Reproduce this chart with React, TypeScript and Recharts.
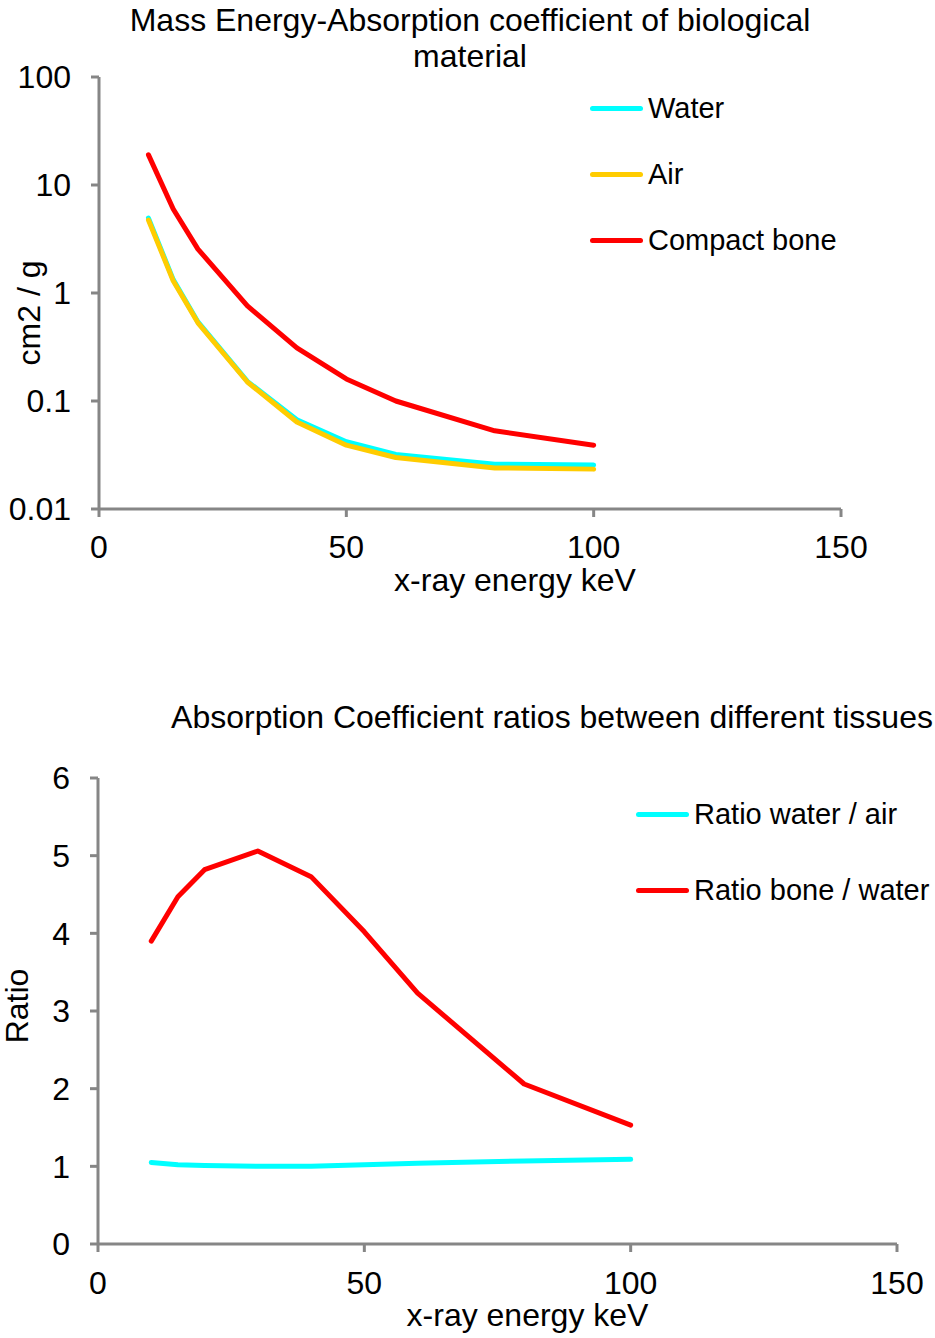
import React from 'react';
import { LineChart, Line, XAxis, YAxis, Legend } from 'recharts';

// x-ray energy, keV
const energy = [10, 15, 20, 30, 40, 50, 60, 80, 100];

// mass energy-absorption coefficient, cm2/g
const water = [4.94, 1.33, 0.54, 0.152, 0.067, 0.042, 0.032, 0.026, 0.0255];
const air = [4.74, 1.3, 0.53, 0.15, 0.064, 0.039, 0.03, 0.024, 0.0234];
const bone = [19, 6.0, 2.55, 0.76, 0.31, 0.16, 0.1, 0.053, 0.039];

// ratios
const ratioWaterAir = [1.05, 1.02, 1.01, 1.0, 1.0, 1.02, 1.04, 1.07, 1.09];
const ratioBoneWater = [3.9, 4.47, 4.82, 5.06, 4.73, 4.02, 3.23, 2.06, 1.53];

const xTicks = [0, 50, 100, 150];
const logTicks = [0.01, 0.1, 1, 10, 100];
const ratioTicks = [0, 1, 2, 3, 4, 5, 6];

const topSeries = [
  { key: 'water', name: 'Water', color: '#00FFFF' },
  { key: 'air', name: 'Air', color: '#FFCC00' },
  { key: 'bone', name: 'Compact bone', color: '#FF0000' },
];
const bottomSeries = [
  { key: 'waterAir', name: 'Ratio water / air', color: '#00FFFF' },
  { key: 'boneWater', name: 'Ratio bone / water', color: '#FF0000' },
];

const topData = energy.map((e, i) => ({ energy: e, water: water[i], air: air[i], bone: bone[i] }));
const bottomData = energy.map((e, i) => ({ energy: e, waterAir: ratioWaterAir[i], boneWater: ratioBoneWater[i] }));

const FONT = '"Liberation Sans", Arial, sans-serif';
const AXIS = '#868686';

const tickStyle = { fill: '#000', fontSize: 32, fontFamily: FONT };

function XTitle(props: any) {
  const { viewBox, text, dx } = props;
  return (
    <text x={viewBox.x + viewBox.width / 2 + dx} y={viewBox.y + 82} textAnchor="middle" fontSize={32} fontFamily={FONT} fill="#000">
      {text}
    </text>
  );
}

function YTitle(props: any) {
  const { viewBox, text, bx, dy } = props;
  const x = viewBox.x + bx;
  const y = viewBox.y + viewBox.height / 2 + dy;
  return (
    <text x={x} y={y} transform={`rotate(-90 ${x} ${y})`} textAnchor="middle" fontSize={32} fontFamily={FONT} fill="#000">
      {text}
    </text>
  );
}

function makeLegend(series: typeof topSeries, rowHeight: number) {
  return () => (
    <div style={{ fontFamily: FONT, fontSize: 29, color: '#000' }}>
      {series.map((s) => (
        <div key={s.key} style={{ display: 'flex', alignItems: 'center', height: rowHeight }}>
          <span style={{ display: 'inline-block', width: 53, height: 5, borderRadius: 3, background: s.color, marginRight: 5 }} />
          <span style={{ whiteSpace: 'nowrap' }}>{s.name}</span>
        </div>
      ))}
    </div>
  );
}

const TopLegend = makeLegend(topSeries, 66);
const BottomLegend = makeLegend(bottomSeries, 76);

export default function App() {
  return (
    <div style={{ position: 'absolute', left: 0, top: 0, width: 935, height: 1338, background: '#fff', fontFamily: FONT }}>
      <div style={{ position: 'absolute', left: 99, top: 2, width: 742, textAlign: 'center', fontSize: 32, lineHeight: '36px' }}>
        Mass Energy-Absorption coefficient of biological
        <br />
        material
      </div>
      <div style={{ position: 'absolute', left: 0, top: 0 }}>
        <LineChart width={935} height={620} data={topData} margin={{ top: 77, right: 94, left: 0, bottom: 0 }}>
          <XAxis
            dataKey="energy"
            type="number"
            domain={[0, 150]}
            ticks={xTicks}
            height={111}
            tick={tickStyle}
            tickSize={8}
            tickMargin={18}
            stroke={AXIS}
            strokeWidth={3}
            label={<XTitle text="x-ray energy keV" dx={45} />}
          />
          <YAxis
            type="number"
            scale="log"
            domain={[0.01, 100]}
            ticks={logTicks}
            allowDataOverflow
            width={99}
            tick={tickStyle}
            tickSize={8}
            tickMargin={20}
            tickFormatter={(v: number) => String(v)}
            stroke={AXIS}
            strokeWidth={3}
            label={<YTitle text="cm2 / g" bx={40} dy={20} />}
          />
          <Legend layout="vertical" align="center" verticalAlign="middle" content={<TopLegend />} wrapperStyle={{ top: 75, left: 590, width: 320 }} />
          {topSeries.map((s) => (
            <Line
              key={s.key}
              type="linear"
              dataKey={s.key}
              name={s.name}
              stroke={s.color}
              strokeWidth={5}
              strokeLinecap="round"
              strokeLinejoin="round"
              dot={false}
              activeDot={false}
              isAnimationActive={false}
            />
          ))}
        </LineChart>
      </div>

      <div style={{ position: 'absolute', left: 552, top: 699, transform: 'translateX(-50%)', whiteSpace: 'nowrap', fontSize: 32, lineHeight: '36px' }}>
        Absorption Coefficient ratios between different tissues
      </div>
      <div style={{ position: 'absolute', left: 0, top: 640 }}>
        <LineChart width={935} height={698} data={bottomData} margin={{ top: 138, right: 38, left: 0, bottom: 0 }}>
          <XAxis
            dataKey="energy"
            type="number"
            domain={[0, 150]}
            ticks={xTicks}
            height={94}
            tick={tickStyle}
            tickSize={8}
            tickMargin={19}
            stroke={AXIS}
            strokeWidth={3}
            label={<XTitle text="x-ray energy keV" dx={30} />}
          />
          <YAxis
            type="number"
            domain={[0, 6]}
            ticks={ratioTicks}
            width={98}
            tick={tickStyle}
            tickSize={8}
            tickMargin={20}
            stroke={AXIS}
            strokeWidth={3}
            label={<YTitle text="Ratio" bx={28} dy={-5} />}
          />
          <Legend layout="vertical" align="center" verticalAlign="middle" content={<BottomLegend />} wrapperStyle={{ top: 136, left: 636, width: 300 }} />
          {bottomSeries.map((s) => (
            <Line
              key={s.key}
              type="linear"
              dataKey={s.key}
              name={s.name}
              stroke={s.color}
              strokeWidth={5}
              strokeLinecap="round"
              strokeLinejoin="round"
              dot={false}
              activeDot={false}
              isAnimationActive={false}
            />
          ))}
        </LineChart>
      </div>
    </div>
  );
}
